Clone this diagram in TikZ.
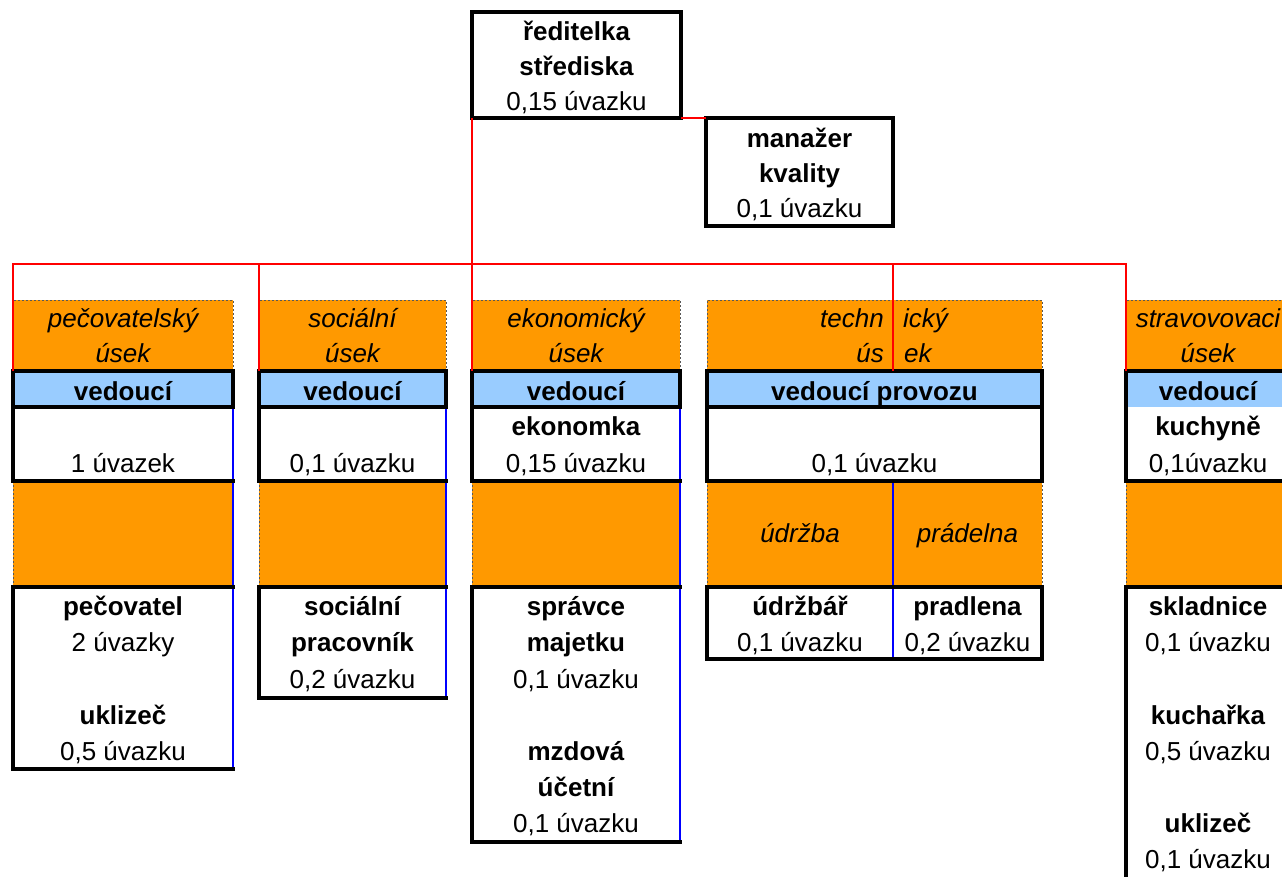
\documentclass[tikz,border=0pt]{standalone}
\usepackage{fontspec}
\setmainfont{Liberation Sans}
\definecolor{orng}{HTML}{FF9900}
\definecolor{lblue}{HTML}{99CCFF}
\definecolor{redln}{HTML}{FF0000}
\definecolor{blueln}{HTML}{0000FF}
\newcommand\txtline[5]{\node[#1] (#2) at (#3,#4) {#5};}
\begin{document}
\begin{tikzpicture}[x=1pt,y=-1pt,
  cell/.style={anchor=north west, inner sep=0pt, outer sep=0pt, draw=none},
  hdr/.style={cell, fill=orng},
  band/.style={cell, fill=lblue},
  wbox/.style={cell, fill=white},
  blk/.style={line width=3.4pt, black, line cap=rect},
  bluel/.style={line width=2.8pt, blueln},
  redl/.style={line width=2.8pt, redln},
  dashl/.style={line width=0.9pt, black!65, dash pattern=on 2pt off 2pt},
  t/.style={anchor=base, inner sep=0pt, font=\fontsize{26}{36}\selectfont},
  tb/.style={t, font=\fontsize{26}{36}\selectfont\bfseries},
  ti/.style={t, font=\fontsize{26}{36}\selectfont\itshape},
  tie/.style={ti, anchor=base east},
  tiw/.style={ti, anchor=base west}
]
\useasboundingbox (0,0) rectangle (1282,876);
\clip (0,0) rectangle (1282,876);
\fill[white] (0,0) rectangle (1282,876);

% top boxes
\node[wbox, minimum width=209pt, minimum height=106pt] (dir) at (472,12) {};
\node[wbox, minimum width=187pt, minimum height=108pt] (mgr) at (706,118) {};
\draw[blk] (dir.north west) rectangle (dir.south east);
\draw[blk] (mgr.north west) rectangle (mgr.south east);

% columns
\foreach \n/\L/\R/\B in {1/13/233/769, 2/259/446/698, 3/472/680/842, 4/707/1042/659, 5/1126/1310/900} {
  \node[hdr,  minimum width={(\R-\L)*1pt}, minimum height=71pt]  (h\n) at (\L,300) {};
  \node[band, minimum width={(\R-\L)*1pt}, minimum height=36pt]  (v\n) at (\L,371) {};
  \node[wbox, minimum width={(\R-\L)*1pt}, minimum height=74pt]  (w\n) at (\L,407) {};
  \node[hdr,  minimum width={(\R-\L)*1pt}, minimum height=106pt] (o\n) at (\L,481) {};
  \node[wbox, minimum width={(\R-\L)*1pt}, minimum height={(\B-587)*1pt}] (l\n) at (\L,587) {};
  \draw[dashl] (h\n.south west) -- (h\n.north west) -- (h\n.north east) -- (h\n.south east);
  \draw[dashl] (o\n.north west) -- (o\n.south west);
}
% right edges: blue for columns 1-3
\foreach \n in {1,2,3} {
  \draw[bluel] (w\n.north east) -- (l\n.south east);
}
% column 4 right edges and divider
\draw[blk] (w4.north east) -- (w4.south east);
\draw[dashl] (o4.north east) -- (o4.south east);
\draw[blk] (l4.north east) -- (l4.south east);
\draw[bluel] (mgr.south east |- o4.north) -- (mgr.south east |- l4.south);

% black borders
\foreach \n in {1,2,3,4} {
  \draw[blk] (v\n.north west) rectangle (v\n.south east);
  \draw[blk] (w\n.north west) -- (w\n.south west) -- (w\n.south east);
  \draw[blk] (o\n.south east) -- (l\n.north west) -- (l\n.south west) -- (l\n.south east);
}
\draw[blk] (v5.south west) -- (v5.north west) -- (v5.north east);
\draw[blk] (w5.north west) -- (w5.south west) -- (w5.south east);
\draw[blk] (o5.south east) -- (l5.north west) -- (l5.south west);

% red connectors
\coordinate (bus) at (472,264);
\draw[redl] (dir.south east) -- (mgr.north west);
\draw[redl] (dir.south west) -- (bus);
\draw[redl] (h1.south west) -- (h1.north west |- bus) -- (h5.north west |- bus) -- (h5.south west);
\draw[redl] (h2.north west |- bus) -- (h2.south west);
\draw[redl] (h3.north west |- bus) -- (h3.south west);
\draw[redl] (mgr.south east |- bus) -- (mgr.south east |- h4.south);

% texts: top
\txtline{tb}{d1}{576.5}{40}{ředitelka}
\txtline{tb}{d2}{576.5}{75}{střediska}
\txtline{t}{d3}{576.5}{110}{0,15 úvazku}
\txtline{tb}{m1}{799.5}{147}{manažer}
\txtline{tb}{m2}{799.5}{182}{kvality}
\txtline{t}{m3}{799.5}{217}{0,1 úvazku}

% headers
\txtline{ti}{ha1}{123}{327}{pečovatelský}
\txtline{ti}{hb1}{123}{362}{úsek}
\txtline{ti}{ha2}{352.5}{327}{sociální}
\txtline{ti}{hb2}{352.5}{362}{úsek}
\txtline{ti}{ha3}{576}{327}{ekonomický}
\txtline{ti}{hb3}{576}{362}{úsek}
\txtline{tie}{ha4}{884}{327}{techn}
\txtline{tie}{hb4}{884}{362}{ús}
\txtline{tiw}{hc4}{903}{327}{ický}
\txtline{tiw}{hd4}{904}{362}{ek}
\txtline{ti}{ha5}{1208}{327}{stravovovaci}
\txtline{ti}{hb5}{1208}{362}{úsek}

% vedouci bands
\txtline{tb}{vt1}{123}{400}{vedoucí}
\txtline{tb}{vt2}{352.5}{400}{vedoucí}
\txtline{tb}{vt3}{576}{400}{vedoucí}
\txtline{tb}{vt4}{874.5}{400}{vedoucí provozu}
\txtline{tb}{vt5}{1208}{400}{vedoucí}

% white boxes
\txtline{tb}{wa3}{576}{435}{ekonomka}
\txtline{tb}{wa5}{1208}{435}{kuchyně}
\txtline{t}{wb1}{123}{472}{1 úvazek}
\txtline{t}{wb2}{352.5}{472}{0,1 úvazku}
\txtline{t}{wb3}{576}{472}{0,15 úvazku}
\txtline{t}{wb4}{874.5}{472}{0,1 úvazku}
\txtline{t}{wb5}{1208}{472}{0,1úvazku}

% orange middle (column 4)
\txtline{ti}{oa4}{800}{542}{údržba}
\txtline{ti}{ob4}{967.5}{542}{prádelna}

% lower boxes
\txtline{tb}{la1}{123}{615.5}{pečovatel}
\txtline{t}{lb1}{123}{651.7}{2 úvazky}
\txtline{tb}{lc1}{123}{724.1}{uklizeč}
\txtline{t}{ld1}{123}{760.3}{0,5 úvazku}

\txtline{tb}{la2}{352.5}{615.5}{sociální}
\txtline{tb}{lb2}{352.5}{651.7}{pracovník}
\txtline{t}{lc2}{352.5}{688.5}{0,2 úvazku}

\txtline{tb}{la3}{576}{615.5}{správce}
\txtline{tb}{lb3}{576}{651.7}{majetku}
\txtline{t}{lc3}{576}{688.5}{0,1 úvazku}
\txtline{tb}{ld3}{576}{760.3}{mzdová}
\txtline{tb}{le3}{576}{796.5}{účetní}
\txtline{t}{lf3}{576}{832.7}{0,1 úvazku}

\txtline{tb}{la4}{800}{615.5}{údržbář}
\txtline{t}{lb4}{800}{651}{0,1 úvazku}
\txtline{tb}{lc4}{967.5}{615.5}{pradlena}
\txtline{t}{ld4}{967.5}{651}{0,2 úvazku}

\txtline{tb}{la5}{1208}{615.5}{skladnice}
\txtline{t}{lb5}{1208}{651.7}{0,1 úvazku}
\txtline{tb}{lc5}{1208}{724.1}{kuchařka}
\txtline{t}{ld5}{1208}{760.3}{0,5 úvazku}
\txtline{tb}{le5}{1208}{832.7}{uklizeč}
\txtline{t}{lf5}{1208}{868.9}{0,1 úvazku}
\end{tikzpicture}
\end{document}
